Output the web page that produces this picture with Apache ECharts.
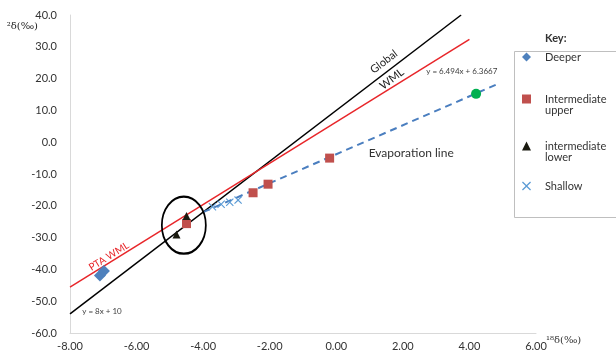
<!DOCTYPE html>
<html>
<head>
<meta charset="utf-8">
<script src="https://cdn.jsdelivr.net/npm/echarts@6/dist/echarts.min.js"></script>
<style>
  html, body { margin: 0; padding: 0; background: #fff; }
  #chart { width: 616px; height: 361px; }
</style>
</head>
<body>
<div id="chart"></div>
<script>
// Axis ticks
const xTicks = [-8, -6, -4, -2, 0, 2, 4, 6];
const yTicks = [-60, -50, -40, -30, -20, -10, 0, 10, 20, 30, 40];

// Reference lines (end points)
const globalX = [-8, 3.75];
const globalY = [-54, 40];
const ptaX = [-8, 4.0];
const ptaY = [-45.6, 32.3];
const evapX = [-4.0, 4.85];
const evapY = [-22.0, 18.3];

// Samples
const deeperX = [-7.1, -6.98];
const deeperY = [-41.9, -40.5];
const upperX = [-4.5, -2.5, -2.05, -0.2];
const upperY = [-25.6, -15.9, -13.2, -5.0];
const lowerX = [-4.5, -4.8];
const lowerY = [-23.2, -29.0];
const shallowX = [-3.72, -3.46, -3.2, -2.95];
const shallowY = [-20.3, -19.5, -18.9, -18.2];
const extraX = [4.2];
const extraY = [15.2];
const circledX = [-4.58];
const circledY = [-26.1];

const legendNames = ['Deeper', 'Intermediate upper', 'intermediate lower', 'Shallow'];

const FONT = 'Lato, "Open Sans", sans-serif';
const zip = (xs, ys) => xs.map((x, i) => [x, ys[i]]);
const crossPath = 'path://M0,1 L1,0 L5,4 L9,0 L10,1 L6,5 L10,9 L9,10 L5,6 L1,10 L0,9 L4,5 Z';

const chart = echarts.init(document.getElementById('chart'));

const legendFor = (name, top, text) => ({
    data: [name],
    left: 522,
    top: top,
    padding: 0,
    itemWidth: 9,
    itemHeight: 9,
    selectedMode: false,
    formatter: () => text,
    textStyle: { fontFamily: FONT, fontSize: 11, color: '#333', lineHeight: 11, padding: [0, 0, 0, 9] }
});

const option = {
    animation: false,
    grid: { left: 70, right: 80, top: 15, bottom: 28 },
    xAxis: {
        type: 'value',
        min: xTicks[0],
        max: xTicks[xTicks.length - 1],
        interval: 2,
        name: '¹⁸δ(‰)',
        nameLocation: 'end',
        nameGap: 10,
        nameMoveOverlap: false,
        nameTextStyle: { fontFamily: 'DejaVu Serif', fontSize: 10, color: '#333', verticalAlign: 'top', padding: [2, 0, 0, 0] },
        axisLine: { onZero: false, lineStyle: { color: '#d9d9d9', width: 1 } },
        axisTick: { show: false },
        splitLine: { show: false },
        axisLabel: { fontFamily: FONT, fontSize: 11, color: '#333', margin: 8, formatter: v => v.toFixed(2) }
    },
    yAxis: {
        type: 'value',
        min: yTicks[0],
        max: yTicks[yTicks.length - 1],
        interval: 10,
        name: '²δ(‰)',
        nameLocation: 'end',
        nameGap: 0,
        nameMoveOverlap: false,
        nameTextStyle: { fontFamily: 'DejaVu Serif', fontSize: 10, color: '#222', align: 'right', verticalAlign: 'top', padding: [6, 32, 0, 0] },
        axisLine: { onZero: false, lineStyle: { color: '#d9d9d9', width: 1 } },
        axisTick: { show: false },
        splitLine: { show: false },
        axisLabel: { fontFamily: FONT, fontSize: 11, color: '#333', margin: 13, formatter: v => v.toFixed(1) }
    },
    legend: [
        legendFor(legendNames[0], 51.5, 'Deeper'),
        legendFor(legendNames[1], 82.5, '\nIntermediate\nupper'),
        legendFor(legendNames[2], 129.5, '\nintermediate\nlower'),
        legendFor(legendNames[3], 180.5, 'Shallow')
    ],
    series: [
        {
            name: 'Global WML',
            type: 'line',
            data: zip(globalX, globalY),
            symbol: 'none',
            lineStyle: { color: '#000', width: 1.5 },
            z: 1
        },
        {
            name: 'PTA WML',
            type: 'line',
            data: zip(ptaX, ptaY),
            symbol: 'none',
            lineStyle: { color: '#e8262a', width: 1.5 },
            z: 1
        },
        {
            name: 'Evaporation line',
            type: 'line',
            data: zip(evapX, evapY),
            symbol: 'none',
            lineStyle: { color: '#4a7ebf', width: 2, type: [7, 5] },
            z: 1
        },
        {
            name: 'circle',
            type: 'scatter',
            data: zip(circledX, circledY),
            symbol: 'circle',
            symbolSize: [44, 57],
            itemStyle: { color: 'rgba(0,0,0,0)', borderColor: '#000', borderWidth: 2, opacity: 1 },
            silent: true,
            z: 3
        },
        {
            name: legendNames[0],
            type: 'scatter',
            data: zip(deeperX, deeperY),
            symbol: 'diamond',
            symbolSize: 12,
            itemStyle: { color: '#4f81bd', opacity: 1 }
        },
        {
            name: legendNames[1],
            type: 'scatter',
            data: zip(upperX, upperY),
            symbol: 'rect',
            symbolSize: 9,
            itemStyle: { color: '#c0504d', opacity: 1 }
        },
        {
            name: legendNames[2],
            type: 'scatter',
            data: zip(lowerX, lowerY),
            symbol: 'triangle',
            symbolSize: 8,
            itemStyle: { color: '#1a1a10', opacity: 1 }
        },
        {
            name: legendNames[3],
            type: 'scatter',
            data: zip(shallowX, shallowY),
            symbol: crossPath,
            symbolSize: 8,
            itemStyle: { color: '#5b9bd5', opacity: 1 }
        },
        {
            name: 'extra',
            type: 'scatter',
            data: zip(extraX, extraY),
            symbol: 'circle',
            symbolSize: 10,
            itemStyle: { color: '#00b050', opacity: 1 }
        }
    ]
};

chart.setOption(option);

// Text annotations placed in data space
const notes = [
    { text: 'Global', at: [1.43, 25.3], rotate: 37.5, size: 11, color: '#222' },
    { text: 'WML', at: [1.67, 19.9], rotate: 37.5, size: 11, color: '#222' },
    { text: 'PTA WML', at: [-6.83, -35.9], rotate: 32, size: 10, color: '#e8262a' },
    { text: 'y = 6.494x + 6.3667', at: [3.77, 22.4], rotate: 0, size: 8, color: '#404040' },
    { text: 'y = 8x + 10', at: [-7.04, -53.1], rotate: 0, size: 8, color: '#404040' },
    { text: 'Evaporation line', at: [2.25, -3.3], rotate: 0, size: 12, color: '#333' }
];

const graphics = notes.map(n => {
    const p = chart.convertToPixel({ gridIndex: 0 }, n.at);
    return {
        type: 'text',
        x: p[0],
        y: p[1],
        rotation: n.rotate * Math.PI / 180,
        z: 5,
        style: {
            text: n.text,
            fontFamily: FONT,
            fontSize: n.size,
            fill: n.color,
            align: 'center',
            verticalAlign: 'middle'
        }
    };
});

// Key box
graphics.push({
    type: 'rect',
    z: 0,
    shape: { x: 514.5, y: 51.5, width: 120, height: 166 },
    style: { fill: '#fff', stroke: '#bfbfbf', lineWidth: 1 }
});
graphics.push({
    type: 'text',
    x: 545,
    y: 38,
    z: 5,
    style: { text: 'Key:', fontFamily: FONT, fontSize: 11, fontWeight: 'bold', fill: '#333', verticalAlign: 'middle' }
});

chart.setOption({ graphic: graphics });
</script>
</body>
</html>
